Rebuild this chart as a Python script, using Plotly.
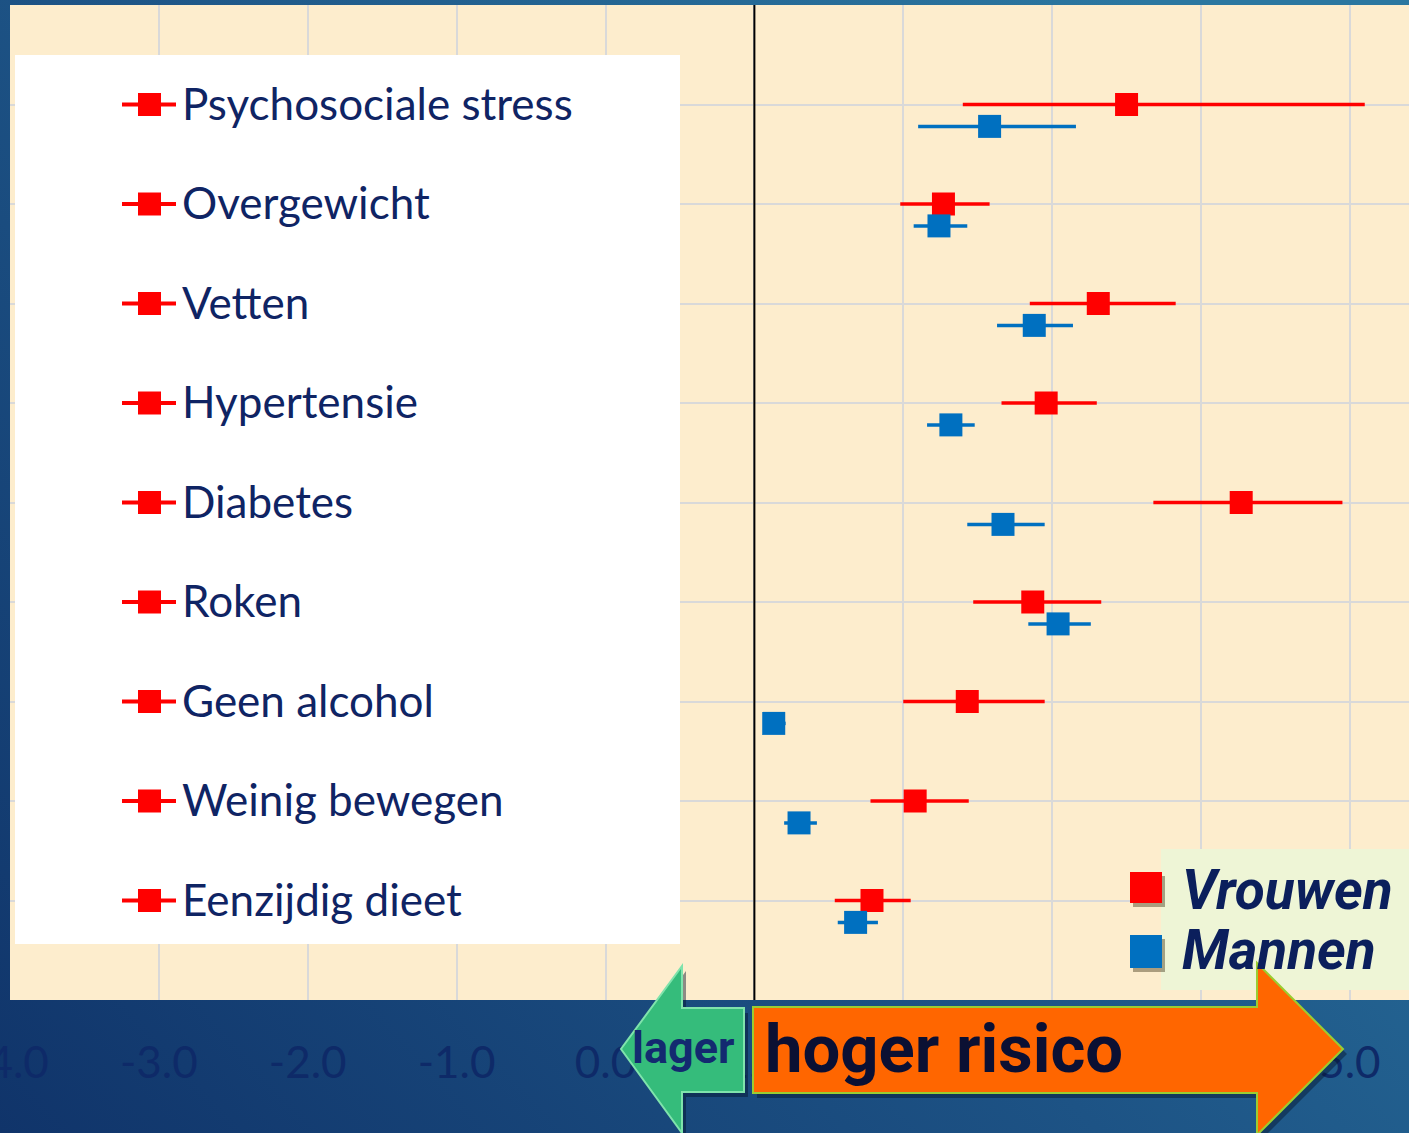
import base64
import plotly.graph_objects as go

# ---------------- data ----------------
categories = ["Psychosociale stress", "Overgewicht", "Vetten", "Hypertensie", "Diabetes",
              "Roken", "Geen alcohol", "Weinig bewegen", "Eenzijdig dieet"]
women_or = [3.50, 2.27, 3.31, 2.96, 4.27, 2.87, 2.43, 2.08, 1.79]
women_lo = [2.40, 1.98, 2.85, 2.66, 3.68, 2.47, 2.00, 1.78, 1.54]
women_hi = [5.10, 2.58, 3.83, 3.30, 4.95, 3.33, 2.95, 2.44, 2.05]
men_or = [2.58, 2.24, 2.88, 2.32, 2.67, 3.04, 1.13, 1.30, 1.68]
men_lo = [2.10, 2.07, 2.63, 2.16, 2.43, 2.84, 1.06, 1.20, 1.56]
men_hi = [3.16, 2.43, 3.14, 2.48, 2.95, 3.26, 1.21, 1.42, 1.83]
x_tick_values = [-4, -3, -2, -1, 0, 1, 2, 3, 4, 5]
x_tick_labels = ["-4.0", "-3.0", "-2.0", "-1.0", "0.0", "1.0", "2.0", "3.0", "4.0", "5.0"]
series_names = ["Vrouwen", "Mannen"]
arrow_labels = ["lager", "hoger risico"]
reference_value = 1.0

# ---------------- layout geometry ----------------
W, H = 1409, 1133
ML, MR, MT, MB = 10, 0, 5, 133
PW, PH = W - ML - MR, H - MT - MB
UNIT = 148.875
x_range = [-4, -4 + PW / UNIT]
n = len(categories)
ypos = [n - i for i in range(n)]
MEN_OFFSET = 0.22

RED = "#FF0000"
BLUE = "#0070C0"
NAVY = "#0F2464"


def px(p):
    return (p - ML) / PW


def py(p):
    return (H - MB - p) / PH


fig = go.Figure()

fig.add_trace(go.Scatter(
    x=women_or, y=ypos, mode="markers", name=series_names[0],
    marker=dict(symbol="square", size=23, color=RED),
    error_x=dict(type="data", symmetric=False,
                 array=[h - v for h, v in zip(women_hi, women_or)],
                 arrayminus=[v - l for v, l in zip(women_or, women_lo)],
                 color=RED, thickness=3.5, width=0),
))
fig.add_trace(go.Scatter(
    x=men_or, y=[p - MEN_OFFSET for p in ypos], mode="markers", name=series_names[1],
    marker=dict(symbol="square", size=23, color=BLUE),
    error_x=dict(type="data", symmetric=False,
                 array=[h - v for h, v in zip(men_hi, men_or)],
                 arrayminus=[v - l for v, l in zip(men_or, men_lo)],
                 color=BLUE, thickness=3.5, width=0),
))

# ---------------- background gradient ----------------
svg = (
    "<svg xmlns='http://www.w3.org/2000/svg' width='1409' height='1133' preserveAspectRatio='none'>"
    "<defs><linearGradient id='g' x1='0' y1='1' x2='1' y2='0.25'>"
    "<stop offset='0' stop-color='#10346A'/>"
    "<stop offset='0.5' stop-color='#1D5385'/>"
    "<stop offset='1' stop-color='#2B77A0'/>"
    "</linearGradient></defs>"
    "<rect width='1409' height='1133' fill='url(#g)'/></svg>"
)
bg_src = "data:image/svg+xml;base64," + base64.b64encode(svg.encode()).decode()

shapes = []
# plot area background
shapes.append(dict(type="rect", xref="paper", yref="paper", x0=0, x1=1, y0=0, y1=1,
                   fillcolor="#FDEDCD", line=dict(width=0), layer="below"))
# reference line
shapes.append(dict(type="line", xref="x", yref="paper", x0=reference_value, x1=reference_value,
                   y0=0, y1=1, line=dict(color="black", width=2), layer="above"))
# white category legend box
shapes.append(dict(type="rect", xref="paper", yref="paper", x0=px(15), x1=px(680),
                   y0=py(944), y1=py(55), fillcolor="white", line=dict(width=0), layer="above"))
half = 11.5 / (PH / 10)
for yv in ypos:
    shapes.append(dict(type="line", xref="paper", yref="y", x0=px(122), x1=px(176), y0=yv, y1=yv,
                       line=dict(color=RED, width=4), layer="above"))
    shapes.append(dict(type="rect", xref="paper", yref="y", x0=px(138), x1=px(161),
                       y0=yv - half, y1=yv + half, fillcolor=RED, line=dict(width=0), layer="above"))

# series legend box
shapes.append(dict(type="rect", xref="paper", yref="paper", x0=px(1161), x1=px(1409),
                   y0=py(990), y1=py(849), fillcolor="#EEF5D6", line=dict(width=0), layer="above"))
for (y0, y1), col in zip([(872, 903), (935, 968)], [RED, BLUE]):
    shapes.append(dict(type="rect", xref="paper", yref="paper", x0=px(1133), x1=px(1165),
                       y0=py(y1 + 4), y1=py(y0 + 4), fillcolor="rgba(70,60,30,0.45)",
                       line=dict(width=0), layer="above"))
    shapes.append(dict(type="rect", xref="paper", yref="paper", x0=px(1130), x1=px(1162),
                       y0=py(y1), y1=py(y0), fillcolor=col, line=dict(width=0), layer="above"))


def poly(points):
    return "M " + " L ".join(f"{px(a):.5f},{py(b):.5f}" for a, b in points) + " Z"


green_pts = [(744, 1008), (682, 1008), (682, 966), (621, 1049), (682, 1133), (682, 1092), (744, 1092)]
orange_pts = [(753, 1007), (1257, 1007), (1257, 963), (1343, 1049), (1257, 1135), (1257, 1093), (753, 1093)]
for pts, fill, edge in [(green_pts, "#35BC7B", "#7FE3AC"), (orange_pts, "#FF6600", "#9ACD32")]:
    shadow = [(a + 4, b + 5) for a, b in pts]
    shapes.append(dict(type="path", xref="paper", yref="paper", path=poly(shadow),
                       fillcolor="rgba(5,20,45,0.45)", line=dict(width=0), layer="above"))
    shapes.append(dict(type="path", xref="paper", yref="paper", path=poly(pts),
                       fillcolor=fill, line=dict(color=edge, width=2), layer="above"))

annotations = []
for cat, yv in zip(categories, ypos):
    annotations.append(dict(x=px(180), y=yv + 0.02, xref="paper", yref="y", xanchor="left", yanchor="middle",
                            text=cat, showarrow=False,
                            font=dict(family="Lato", size=44, color=NAVY)))
for name, yc in zip(series_names, [890, 950]):
    annotations.append(dict(x=px(1180), y=py(yc), xref="paper", yref="paper", xanchor="left",
                            yanchor="middle", text=f"<b><i>{name}</i></b>", showarrow=False,
                            font=dict(family="Roboto", size=55, color="#0B1F5C")))
annotations.append(dict(x=px(630), y=py(1047), xref="paper", yref="paper", xanchor="left",
                        yanchor="middle", text=f"<b>{arrow_labels[0]}</b>", showarrow=False,
                        font=dict(family="Roboto", size=45, color="#132A70")))
annotations.append(dict(x=px(763), y=py(1049), xref="paper", yref="paper", xanchor="left",
                        yanchor="middle", text=f"<b>{arrow_labels[1]}</b>", showarrow=False,
                        font=dict(family="Roboto", size=67, color="#0B1033")))

fig.update_layout(
    width=W, height=H,
    margin=dict(l=ML, r=MR, t=MT, b=MB, autoexpand=False),
    paper_bgcolor="#1A4A7E",
    plot_bgcolor="rgba(0,0,0,0)",
    showlegend=False,
    shapes=shapes,
    annotations=annotations,
    images=[dict(source=bg_src, xref="paper", yref="paper", x=-ML / PW, y=1 + MT / PH,
                 sizex=W / PW, sizey=H / PH, xanchor="left", yanchor="top",
                 sizing="stretch", layer="below")],
    xaxis=dict(range=x_range, tickvals=x_tick_values, ticktext=x_tick_labels,
               showgrid=True, gridcolor="#D9D9D9", gridwidth=2, zeroline=False,
               ticks="", ticklabelstandoff=33, showline=False, ticklabeloverflow="allow",
               automargin=False,
               tickfont=dict(family="Lato", size=44, color="#0E2A68")),
    yaxis=dict(range=[0, 10], dtick=1, tick0=0, showgrid=True, gridcolor="#D9D9D9", gridwidth=2,
               zeroline=False, showticklabels=False, ticks="", showline=False, automargin=False),
)

fig.write_html("out.html", config={"displayModeBar": False},
               post_script="document.body.style.margin='0';document.body.style.overflow='hidden';")
